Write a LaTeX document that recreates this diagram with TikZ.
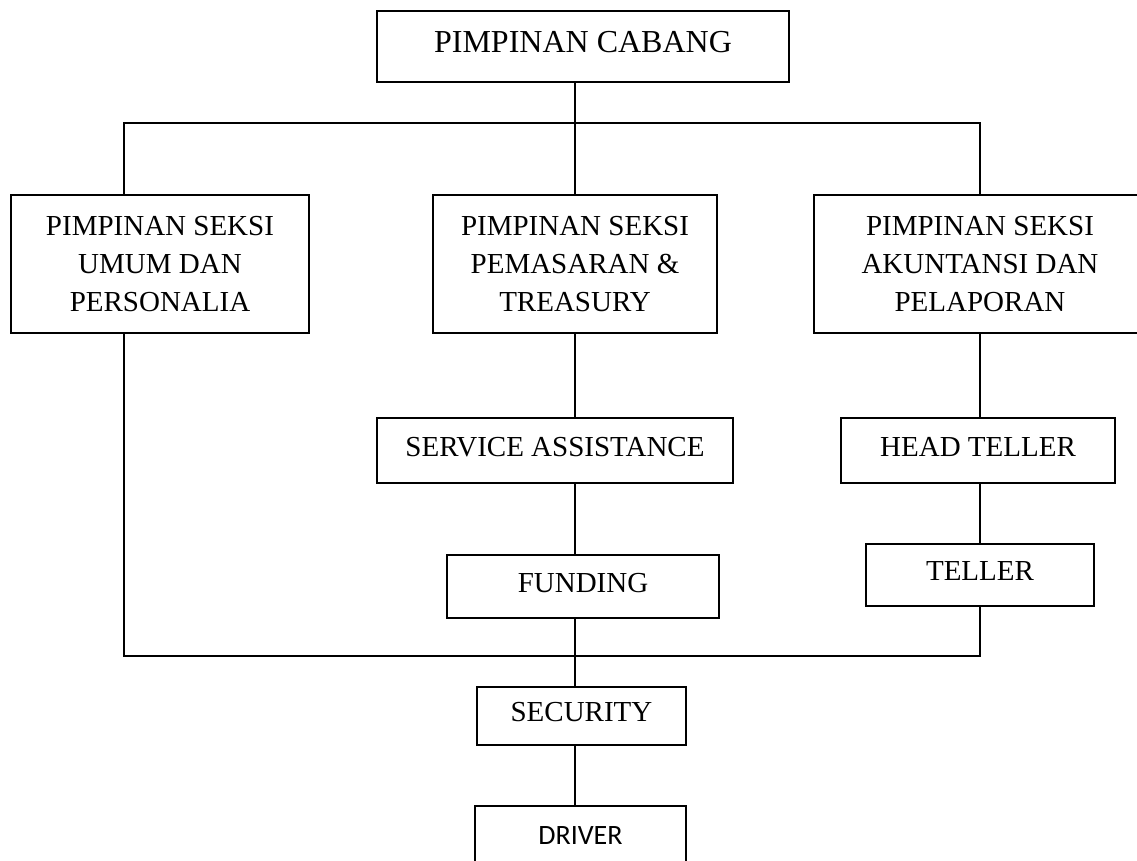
\documentclass[tikz,border=0pt]{standalone}
\usepackage{fontspec}
\setmainfont{Liberation Serif}
\newfontfamily\calibrifont{Carlito}
\usepackage{tikz}

\begin{document}
\begin{tikzpicture}[
  x=1pt, y=-1pt,
  box/.style={draw, line width=1.8pt, align=center, inner sep=0pt, font=\fontsize{29}{38}\selectfont},
  onebox/.style={box, text depth=8pt},
  link/.style={line width=1.5pt}
]
  \useasboundingbox (0,0) rectangle (1137,860);

  \node[onebox, minimum width=412pt, minimum height=71pt, text depth=10pt, font=\fontsize{32}{38}\selectfont] (cabang) at (583,46.5) {PIMPINAN CABANG};
  \node[box, minimum width=298pt, minimum height=138pt] (umum) at (160,264) {PIMPINAN SEKSI\\UMUM DAN\\PERSONALIA};
  \node[box, minimum width=284pt, minimum height=138pt] (pemasaran) at (575,264) {PIMPINAN SEKSI\\PEMASARAN \&\\TREASURY};
  \node[box, minimum width=332pt, minimum height=138pt] (akuntansi) at (980,264) {PIMPINAN SEKSI\\AKUNTANSI DAN\\PELAPORAN};
  \node[onebox, minimum width=356pt, minimum height=65pt] (service) at (555,450.5) {SERVICE ASSISTANCE};
  \node[onebox, minimum width=272pt, minimum height=63pt] (funding) at (583,586.5) {FUNDING};
  \node[onebox, minimum width=274pt, minimum height=65pt] (head) at (978,450.5) {HEAD TELLER};
  \node[onebox, minimum width=228pt, minimum height=62pt] (teller) at (980,575) {TELLER};
  \node[onebox, minimum width=209pt, minimum height=58pt] (security) at (581.5,716) {SECURITY};
  \node[box, minimum width=211pt, minimum height=60pt, font=\calibrifont\fontsize{28}{34}\selectfont] (driver) at (580.5,836) {DRIVER};

  \coordinate (midx) at (575,123);
  \coordinate (leftx) at (124,123);
  \coordinate (lowbus) at (124,656);

  % top bus
  \draw[link] (cabang.south -| midx) -- (midx);
  \draw[link] (leftx |- umum.north) -- (leftx) -- (akuntansi.north |- leftx) -- (akuntansi.north);
  \draw[link] (midx |- pemasaran.north) -- (midx);

  % middle column
  \draw[link] (midx |- pemasaran.south) -- (midx |- service.north);
  \draw[link] (midx |- service.south) -- (midx |- funding.north);
  \draw[link] (midx |- funding.south) -- (midx |- security.north);
  \draw[link] (midx |- security.south) -- (midx |- driver.north);

  % right column and bottom bus
  \draw[link] (akuntansi.south) -- (akuntansi.south |- head.north);
  \draw[link] (akuntansi.south |- head.south) -- (teller.north);
  \draw[link] (teller.south) -- (teller.south |- lowbus) -- (lowbus) -- (leftx |- umum.south);
\end{tikzpicture}
\end{document}
